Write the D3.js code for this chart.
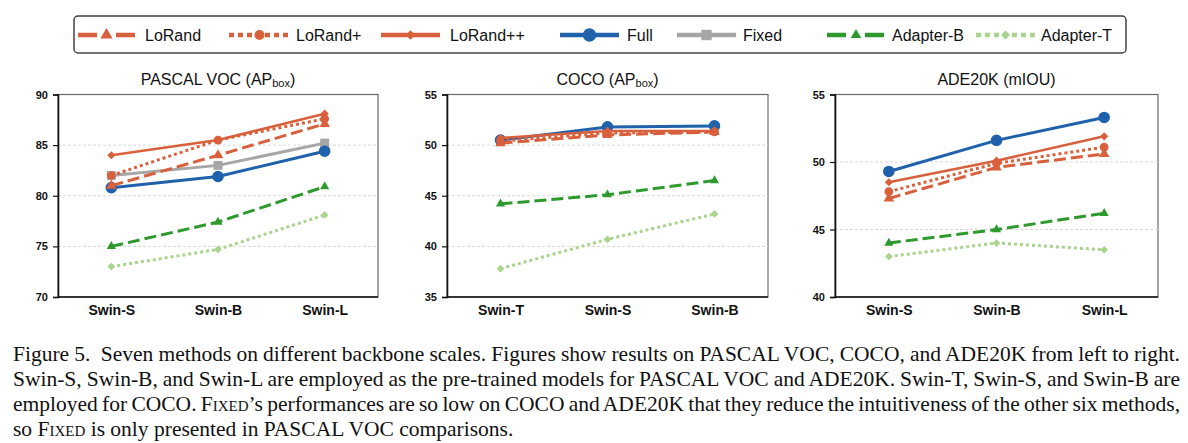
<!DOCTYPE html>
<html><head><meta charset="utf-8">
<script src="https://cdn.jsdelivr.net/npm/d3@7"></script>
<style>body{margin:0;background:#fff;} svg{display:block}</style>
</head><body>
<svg id="chart" width="1188" height="443"></svg>
<script>
// ---------------- DATA ----------------
const methods = ["LoRand","LoRand+","LoRand++","Full","Fixed","Adapter-B","Adapter-T"];

const vocCategories  = ["Swin-S","Swin-B","Swin-L"];
const cocoCategories = ["Swin-T","Swin-S","Swin-B"];
const adeCategories  = ["Swin-S","Swin-B","Swin-L"];

const vocTicks  = [70,75,80,85,90];
const cocoTicks = [35,40,45,50,55];
const adeTicks  = [40,45,50,55];

// PASCAL VOC (AP box)
const vocLoRand    = [81.0, 84.0, 87.1];
const vocLoRandP   = [82.0, 85.5, 87.6];
const vocLoRandPP  = [84.0, 85.5, 88.1];
const vocFull      = [80.8, 81.9, 84.4];
const vocFixed     = [82.0, 83.0, 85.2];
const vocAdapterB  = [75.0, 77.4, 80.9];
const vocAdapterT  = [73.0, 74.7, 78.1];

// COCO (AP box)
const cocoLoRand   = [50.2, 51.0, 51.3];
const cocoLoRandP  = [50.4, 51.2, 51.3];
const cocoLoRandPP = [50.7, 51.4, 51.4];
const cocoFull     = [50.5, 51.8, 51.9];
const cocoAdapterB = [44.2, 45.1, 46.5];
const cocoAdapterT = [37.8, 40.7, 43.2];

// ADE20K (mIOU)
const adeLoRand    = [47.3, 49.6, 50.6];
const adeLoRandP   = [47.8, 49.9, 51.1];
const adeLoRandPP  = [48.5, 50.1, 51.9];
const adeFull      = [49.3, 51.6, 53.3];
const adeAdapterB  = [44.0, 45.0, 46.2];
const adeAdapterT  = [43.0, 44.0, 43.5];

const captionLines = [
  ["Figure 5.  Seven methods on different backbone scales. Figures show results on PASCAL VOC, COCO, and ADE20K from left to right."],
  ["Swin-S, Swin-B, and Swin-L are employed as the pre-trained models for PASCAL VOC and ADE20K. Swin-T, Swin-S, and Swin-B are"],
  ["employed for COCO. F", {sc:"ixed"}, "’s performances are so low on COCO and ADE20K that they reduce the intuitiveness of the other six methods,"],
  ["so F", {sc:"ixed"}, " is only presented in PASCAL VOC comparisons."]
];

// ---------------- STYLES ----------------
const RED = "#D9603C", BLUE = "#1F62AB", GRAY = "#A6A6A6", GREEN = "#2E9A2E", LGREEN = "#A9D48E";
const style = {
  "LoRand":    {color:RED,    dash:"12 5", width:3,   symbol:"triangle", size:48, legendDash:"19 19"},
  "LoRand+":   {color:RED,    dash:"3 3",  width:3,   symbol:"circle",   size:60, legendDash:"5 4"},
  "LoRand++":  {color:RED,    dash:null,   width:2.6, symbol:"diamond",  size:34, legendDash:null},
  "Full":      {color:BLUE,   dash:null,   width:3,   symbol:"circle",   size:105, legendDash:null},
  "Fixed":     {color:GRAY,   dash:null,   width:3,   symbol:"square",   size:80, legendDash:null},
  "Adapter-B": {color:GREEN,  dash:"12 5", width:3,   symbol:"triangle", size:36, legendDash:"19 19"},
  "Adapter-T": {color:LGREEN, dash:"3 3",  width:3,   symbol:"diamond",  size:30, legendDash:"5 4"}
};
const legendLayout = {
  "LoRand":[78,135,145], "LoRand+":[229,290,296], "LoRand++":[381,440,450],
  "Full":[560,619,627], "Fixed":[677,736,743], "Adapter-B":[827,885,892], "Adapter-T":[976,1035,1041]
};
const drawOrder = ["Adapter-T","Adapter-B","Fixed","Full","LoRand","LoRand+","LoRand++"];

const panels = [
  {title:"PASCAL VOC (AP", sub:"box", tail:")", cats:vocCategories, ticks:vocTicks,
   series:{"LoRand":vocLoRand,"LoRand+":vocLoRandP,"LoRand++":vocLoRandPP,"Full":vocFull,"Fixed":vocFixed,"Adapter-B":vocAdapterB,"Adapter-T":vocAdapterT},
   x0:58, x1:378},
  {title:"COCO (AP", sub:"box", tail:")", cats:cocoCategories, ticks:cocoTicks,
   series:{"LoRand":cocoLoRand,"LoRand+":cocoLoRandP,"LoRand++":cocoLoRandPP,"Full":cocoFull,"Adapter-B":cocoAdapterB,"Adapter-T":cocoAdapterT},
   x0:447, x1:768},
  {title:"ADE20K (mIOU)", sub:null, tail:"", cats:adeCategories, ticks:adeTicks,
   series:{"LoRand":adeLoRand,"LoRand+":adeLoRandP,"LoRand++":adeLoRandPP,"Full":adeFull,"Adapter-B":adeAdapterB,"Adapter-T":adeAdapterT},
   x0:835, x1:1158}
];
const plotTop = 94.5, plotBottom = 297;

const svg = d3.select("#chart");
const SANS = "'Liberation Sans', Arial, Helvetica, sans-serif";
const SERIF = "'Liberation Serif', 'Times New Roman', serif";

function symbolPath(name, size){
  const t = {triangle:d3.symbolTriangle, circle:d3.symbolCircle, diamond:d3.symbolSquare, square:d3.symbolSquare}[name];
  return d3.symbol().type(t).size(size)();
}
function markerTransform(name, x, y){
  return name === "diamond" ? `translate(${x},${y}) rotate(45)` : `translate(${x},${y})`;
}

// ---------------- LEGEND ----------------
const lg = svg.append("g");
lg.append("rect").attr("x",74).attr("y",16).attr("width",1052).attr("height",37)
  .attr("rx",4).attr("fill","#fff").attr("stroke","#444").attr("stroke-width",1.5);
methods.forEach(m => {
  const s = style[m], L = legendLayout[m], y = 35;
  lg.append("line").attr("x1",L[0]).attr("x2",L[1]).attr("y1",y).attr("y2",y)
    .attr("stroke",s.color).attr("stroke-width",4.5)
    .attr("stroke-dasharray", s.legendDash);
  lg.append("path").attr("d", symbolPath(s.symbol, s.size*1.35))
    .attr("transform", markerTransform(s.symbol,(L[0]+L[1])/2,y)).attr("fill",s.color);
  lg.append("text").attr("x",L[2]).attr("y",y).attr("dy","0.36em")
    .attr("font-family",SANS).attr("font-size",16).attr("fill","#111").text(m);
});

// ---------------- PANELS ----------------
panels.forEach(p => {
  const g = svg.append("g");
  const x = d3.scalePoint().domain(p.cats).range([p.x0,p.x1]).padding(0.5);
  const y = d3.scaleLinear().domain([p.ticks[0], p.ticks[p.ticks.length-1]]).range([plotBottom, plotTop]);

  g.append("rect").attr("x",p.x0).attr("y",plotTop).attr("width",p.x1-p.x0).attr("height",plotBottom-plotTop)
    .attr("fill","#fff").attr("stroke","#6a6a6a").attr("stroke-width",1.2);
  g.selectAll(".grid").data(p.ticks.slice(1,-1)).enter().append("line")
    .attr("x1",p.x0).attr("x2",p.x1).attr("y1",d=>y(d)).attr("y2",d=>y(d))
    .attr("stroke","#d9d9d9").attr("stroke-width",1).attr("stroke-dasharray","3 2");

  const ya = g.append("g").attr("transform",`translate(${p.x0},0)`)
    .call(d3.axisLeft(y).tickValues(p.ticks).tickSize(5).tickPadding(5).tickFormat(d3.format("d")));
  ya.select(".domain").attr("stroke","#111").attr("stroke-width",1.6);
  ya.selectAll(".tick line").attr("stroke","#111").attr("stroke-width",1.2);
  ya.selectAll(".tick text").attr("font-family",SANS).attr("font-weight","bold").attr("font-size",11).attr("fill","#111");

  const xa = g.append("g").attr("transform",`translate(0,${plotBottom})`)
    .call(d3.axisBottom(x).tickSize(0).tickPadding(0));
  xa.select(".domain").attr("d",`M${p.x0},0H${p.x1}`).attr("stroke","#111").attr("stroke-width",1.6);
  xa.selectAll(".tick text").attr("y",18).attr("dy",0)
    .attr("font-family",SANS).attr("font-weight","bold").attr("font-size",14).attr("fill","#111");

  const t = g.append("text").attr("x",(p.x0+p.x1)/2).attr("y",85).attr("text-anchor","middle")
    .attr("font-family",SANS).attr("font-size",16).attr("fill","#111");
  t.append("tspan").text(p.title);
  if (p.sub) {
    t.append("tspan").attr("font-size",11).attr("dy",2).text(p.sub);
    t.append("tspan").attr("dy",-2).text(p.tail);
  }

  drawOrder.filter(m => p.series[m]).forEach(m => {
    const s = style[m], vals = p.series[m];
    const pts = p.cats.map((c,i) => [x(c), y(vals[i])]);
    g.append("path").attr("d", d3.line()(pts)).attr("fill","none")
      .attr("stroke",s.color).attr("stroke-width",s.width)
      .attr("stroke-dasharray",s.dash).attr("stroke-linejoin","round");
    g.selectAll(null).data(pts).enter().append("path")
      .attr("d",symbolPath(s.symbol,s.size))
      .attr("transform",d=>markerTransform(s.symbol,d[0],d[1]))
      .attr("fill",s.color);
  });
});

// ---------------- CAPTION ----------------
const capLeft = 13, capRight = 1180, capBase = 361, capStep = 25;
captionLines.forEach((parts,i) => {
  const t = svg.append("text").attr("x",capLeft).attr("y",capBase + i*capStep)
    .attr("font-family",SERIF).attr("font-size",21.5).attr("fill","#111")
    .attr("xml:space","preserve");
  parts.forEach(pt => {
    if (typeof pt === "string") t.append("tspan").text(pt);
    else t.append("tspan").style("font-variant","small-caps").text(pt.sc);
  });
  if (i < captionLines.length-1) {
    const full = parts.map(pt => typeof pt === "string" ? pt : pt.sc).join("");
    const spaces = (full.match(/ /g)||[]).length;
    const natural = t.node().getComputedTextLength();
    const extra = (capRight - capLeft - natural) / spaces;
    t.style("word-spacing", extra + "px");
  }
});
</script>
</body></html>
